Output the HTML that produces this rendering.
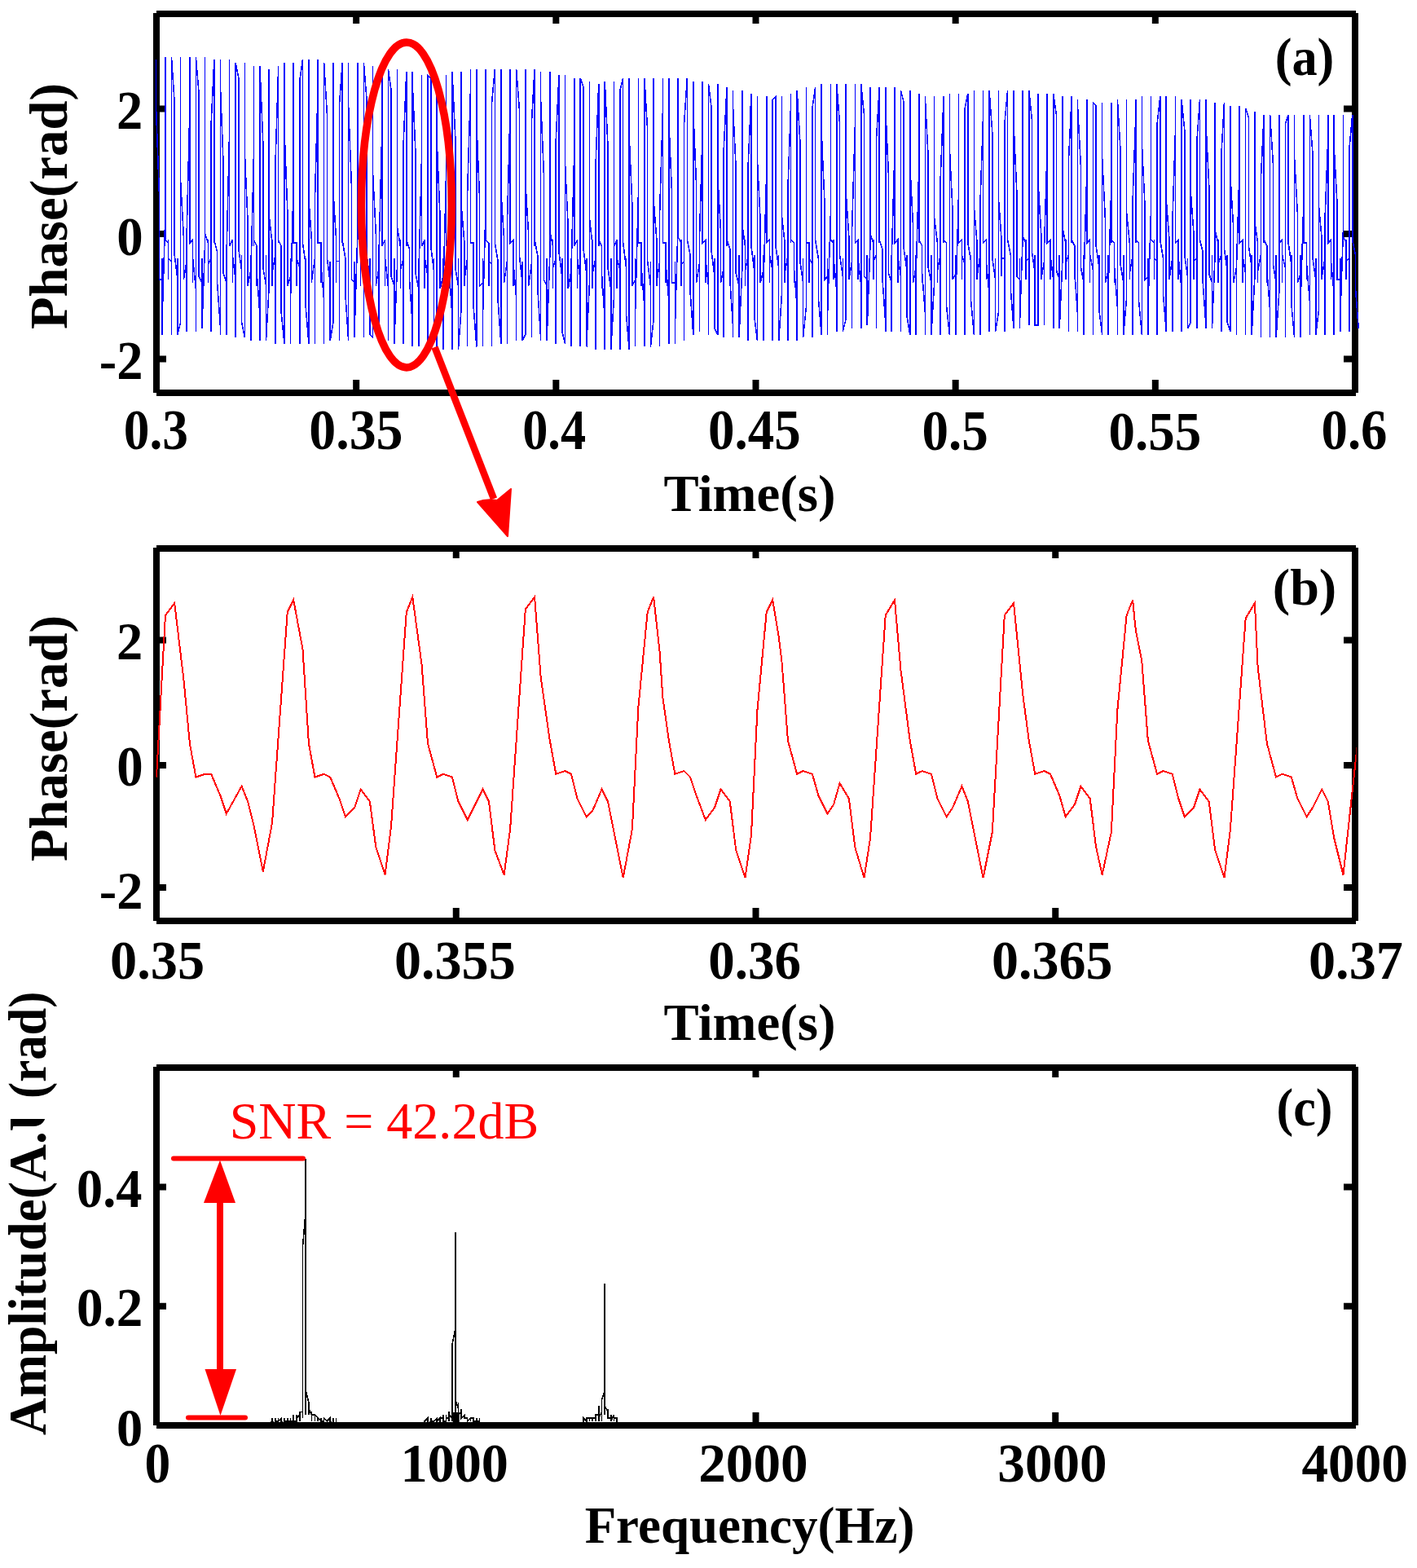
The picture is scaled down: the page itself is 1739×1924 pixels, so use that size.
<!DOCTYPE html><html><head><meta charset="utf-8"><title>Phase and spectrum figure</title><style>html,body{margin:0;padding:0;background:#fff;}svg{display:block;}</style></head><body><svg xmlns="http://www.w3.org/2000/svg" width="1739" height="1924" viewBox="0 0 1739 1924" font-family="'Liberation Serif','Times New Roman',serif"><rect width="1739" height="1924" fill="#fff"/><path d="M192 16V482M1663 16V482M192 17H1664M192 482H1664" stroke="#000" stroke-width="8" fill="none"/><path d="M192.0 17V29M192.0 482V466M437.16666666666663 17V29M437.16666666666663 482V466M682.3333333333333 17V29M682.3333333333333 482V466M927.5 17V29M927.5 482V466M1172.6666666666665 17V29M1172.6666666666665 482V466M1417.8333333333333 17V29M1417.8333333333333 482V466M1663.0 17V29M1663.0 482V466M192 133.5H204M1663 133.5H1649M192 287H204M1663 287H1649M192 440.5H204M1663 440.5H1649" stroke="#000" stroke-width="8" fill="none"/><path d="M192 672V1130M1663 672V1130M192 673H1664M192 1130H1664" stroke="#000" stroke-width="8" fill="none"/><path d="M192.0 673V685M192.0 1130V1114M559.75 673V685M559.75 1130V1114M927.5 673V685M927.5 1130V1114M1295.25 673V685M1295.25 1130V1114M1663.0 673V685M1663.0 1130V1114M192 785.4H204M1663 785.4H1649M192 939H204M1663 939H1649M192 1089H204M1663 1089H1649" stroke="#000" stroke-width="8" fill="none"/><path d="M192 1309V1749M1663 1309V1749M192 1310H1664M192 1749H1664" stroke="#000" stroke-width="8" fill="none"/><path d="M192.0 1310V1322M192.0 1749V1733M559.75 1310V1322M559.75 1749V1733M927.5 1310V1322M927.5 1749V1733M1295.25 1310V1322M1295.25 1749V1733M1663.0 1310V1322M1663.0 1749V1733M192 1456.5H204M1663 1456.5H1649M192 1602.7H204M1663 1602.7H1649" stroke="#000" stroke-width="8" fill="none"/><defs><clipPath id="ca"><rect x="188" y="13" width="1481" height="473"/></clipPath><clipPath id="cb"><rect x="191.5" y="669" width="1473" height="465"/></clipPath><clipPath id="cc"><rect x="191.5" y="1306" width="1473" height="447"/></clipPath></defs><path clip-path="url(#ca)" d="M191.69 110.91L191.69 73.45L191.69 137.12L195.44 238.24L195.44 294.41L195.44 298.16L195.44 294.41L195.44 316.88L195.44 343.10L199.19 343.10L199.19 316.88L199.19 320.62L199.19 361.82L199.19 410.50L199.19 388.04L202.93 260.71L202.93 118.39L202.93 69.71L202.93 133.38L202.93 234.49L202.93 294.41L206.67 298.16L206.67 294.41L206.67 316.88L206.67 343.10L206.67 316.88L210.42 320.62L210.42 361.82L210.42 410.50L210.42 391.78L210.42 268.19L210.42 122.14L210.42 69.71L214.16 125.89L214.16 227.00L214.16 290.67L214.16 298.16L214.16 294.41L214.16 313.14L217.91 343.10L217.91 320.62L217.91 316.88L217.91 358.08L217.91 410.50L221.66 395.53L221.66 275.69L221.66 125.89L221.66 69.71L221.66 122.14L221.66 223.26L225.40 290.67L225.40 298.16L225.40 294.41L225.40 313.14L225.40 339.35L225.40 343.10L229.14 320.62L229.14 316.88L229.14 354.33L229.14 406.76L229.14 399.27L229.14 286.92L232.89 133.38L232.89 69.71L232.89 118.39L232.89 219.51L232.89 290.67L232.89 298.16L236.63 294.41L236.63 313.14L236.63 339.35L236.63 346.84L236.63 320.62L236.63 316.88L240.38 354.33L240.38 406.76L240.38 403.02L240.38 290.67L240.38 137.12L240.38 69.71L244.12 114.65L244.12 215.77L244.12 286.92L244.12 298.16L244.12 294.41L244.12 309.39L244.12 339.35L247.87 346.84L247.87 320.62L247.87 316.88L247.87 350.59L247.87 403.02L251.62 298.16L251.62 144.61L251.62 69.71L251.62 110.91L251.62 208.28L251.62 286.92L255.36 298.16L255.36 294.41L255.36 309.39L255.36 339.35L255.36 346.84L255.36 324.37L259.11 316.88L259.11 350.59L259.11 403.02L259.11 406.76L259.11 305.65L259.11 152.10L262.85 73.45L262.85 107.16L262.85 204.53L262.85 283.18L262.85 298.16L262.85 294.41L266.59 309.39L266.59 335.61L266.59 346.84L266.59 324.37L266.59 313.14L266.59 346.84L270.34 399.27L270.34 410.50L270.34 313.14L270.34 159.59L270.34 73.45L270.34 103.42L274.08 200.79L274.08 279.43L274.08 301.90L274.08 294.41L274.08 305.65L274.08 335.61L277.83 346.84L277.83 328.12L277.83 313.14L277.83 343.10L277.83 399.27L277.83 410.50L277.83 320.62L281.57 163.34L281.57 73.45L281.57 99.67L281.57 197.04L281.57 279.43L281.57 301.90L285.32 294.41L285.32 305.65L285.32 335.61L285.32 346.84L285.32 328.12L285.32 313.14L289.06 343.10L289.06 395.53L289.06 414.25L289.06 328.12L289.06 170.83L289.06 77.20L292.81 95.92L292.81 189.55L292.81 275.69L292.81 301.90L292.81 294.41L292.81 305.65L296.56 331.86L296.56 346.84L296.56 328.12L296.56 313.14L296.56 339.35L296.56 395.53L300.30 414.25L300.30 331.86L300.30 178.32L300.30 77.20L300.30 92.18L300.30 185.81L304.05 271.94L304.05 301.90L304.05 294.41L304.05 301.90L304.05 331.86L304.05 350.59L307.79 331.86L307.79 313.14L307.79 339.35L307.79 391.78L307.79 418.00L307.79 339.35L311.54 185.81L311.54 80.94L311.54 88.44L311.54 182.06L311.54 268.19L311.54 301.90L311.54 294.41L315.28 301.90L315.28 331.86L315.28 350.59L315.28 331.86L315.28 313.14L315.28 335.61L319.02 388.04L319.02 418.00L319.02 346.84L319.02 193.30L319.02 80.94L319.02 84.69L322.77 174.57L322.77 268.19L322.77 301.90L322.77 294.41L322.77 301.90L322.77 328.12L326.51 350.59L326.51 335.61L326.51 313.14L326.51 335.61L326.51 388.04L326.51 418.00L330.26 350.59L330.26 200.79L330.26 84.69L330.26 170.83L330.26 264.45L334.00 298.16L334.00 294.41L334.00 301.90L334.00 328.12L334.00 350.59L334.00 335.61L337.75 313.14L337.75 331.86L337.75 384.29L337.75 421.74L337.75 358.08L337.75 208.28L341.50 88.44L341.50 80.94L341.50 167.08L341.50 260.71L341.50 298.16L341.50 294.41L345.24 301.90L345.24 328.12L345.24 350.59L345.24 335.61L345.24 313.14L345.24 331.86L345.24 384.29L348.99 421.74L348.99 365.56L348.99 215.77L348.99 92.18L348.99 77.20L348.99 159.59L352.73 256.96L352.73 298.16L352.73 294.41L352.73 298.16L352.73 324.37L352.73 350.59L356.48 339.35L356.48 316.88L356.48 328.12L356.48 380.55L356.48 421.74L356.48 369.31L360.22 223.26L360.22 95.92L360.22 77.20L360.22 155.85L360.22 253.22L360.22 298.16L363.96 298.16L363.96 324.37L363.96 350.59L363.96 339.35L363.96 316.88L367.71 328.12L367.71 376.80L367.71 421.74L367.71 376.80L367.71 230.75L367.71 99.67L371.45 73.45L371.45 152.10L371.45 249.47L371.45 298.16L375.20 324.37L375.20 346.84L375.20 343.10L375.20 316.88L375.20 324.37L375.20 376.80L378.94 421.74L378.94 380.55L378.94 238.24L378.94 103.42L378.94 73.45L378.94 144.61L378.94 245.73L382.69 298.16L382.69 320.62L382.69 346.84L382.69 343.10L386.44 316.88L386.44 324.37L386.44 373.06L386.44 421.74L386.44 384.29L386.44 245.73L390.18 107.16L390.18 73.45L390.18 140.87L390.18 241.98L390.18 294.41L390.18 298.16L393.93 298.16L393.93 320.62L393.93 346.84L393.93 343.10L393.93 316.88L393.93 324.37L397.67 369.31L397.67 421.74L397.67 391.78L397.67 256.96L397.67 118.39L397.67 77.20L401.42 140.87L401.42 238.24L401.42 294.41L401.42 298.16L401.42 294.41L401.42 316.88L405.16 346.84L405.16 320.62L405.16 369.31L405.16 418.00L408.90 395.53L408.90 264.45L408.90 122.14L408.90 77.20L408.90 137.12L408.90 234.49L412.65 294.41L412.65 298.16L412.65 294.41L412.65 316.88L412.65 346.84L412.65 320.62L416.39 320.62L416.39 365.56L416.39 418.00L416.39 399.27L416.39 271.94L416.39 129.63L420.14 77.20L420.14 133.38L420.14 230.75L420.14 290.67L420.14 298.16L420.14 294.41L423.88 316.88L423.88 346.84L423.88 320.62L423.88 361.82L427.63 418.00L427.63 403.02L427.63 279.43L427.63 133.38L427.63 77.20L427.63 129.63L431.38 227.00L431.38 290.67L431.38 298.16L431.38 294.41L431.38 313.14L431.38 343.10L435.12 346.84L435.12 324.37L435.12 320.62L435.12 361.82L435.12 414.25L435.12 406.76L438.87 286.92L438.87 140.87L438.87 77.20L438.87 125.89L438.87 219.51L438.87 290.67L442.61 298.16L442.61 294.41L442.61 313.14L442.61 343.10L442.61 350.59L442.61 324.37L446.36 316.88L446.36 358.08L446.36 414.25L446.36 410.50L446.36 294.41L446.36 144.61L446.36 77.20L450.10 122.14L450.10 215.77L450.10 286.92L450.10 301.90L450.10 294.41L450.10 313.14L453.85 343.10L453.85 350.59L453.85 324.37L453.85 316.88L453.85 354.33L453.85 410.50L457.59 414.25L457.59 301.90L457.59 152.10L457.59 80.94L457.59 118.39L457.59 212.02L461.33 286.92L461.33 301.90L461.33 294.41L461.33 309.39L461.33 343.10L461.33 350.59L465.08 328.12L465.08 316.88L465.08 354.33L465.08 410.50L465.08 418.00L465.08 309.39L468.82 159.59L468.82 80.94L468.82 114.65L468.82 208.28L468.82 283.18L468.82 301.90L472.57 294.41L472.57 309.39L472.57 339.35L472.57 350.59L472.57 328.12L472.57 316.88L476.31 350.59L476.31 406.76L476.31 418.00L476.31 316.88L476.31 167.08L476.31 84.69L480.06 110.91L480.06 204.53L480.06 279.43L480.06 301.90L480.06 294.41L480.06 309.39L480.06 339.35L483.81 350.59L483.81 328.12L483.81 316.88L483.81 346.84L483.81 406.76L483.81 421.74L487.55 324.37L487.55 170.83L487.55 84.69L487.55 107.16L487.55 197.04L487.55 279.43L491.30 301.90L491.30 294.41L491.30 305.65L491.30 335.61L491.30 354.33L491.30 331.86L495.04 316.88L495.04 346.84L495.04 403.02L495.04 421.74L495.04 331.86L495.04 178.32L498.79 88.44L498.79 103.42L498.79 193.30L498.79 275.69L498.79 301.90L498.79 294.41L502.53 305.65L502.53 335.61L502.53 354.33L502.53 331.86L502.53 316.88L502.53 343.10L506.27 399.27L506.27 425.49L506.27 339.35L506.27 185.81L506.27 88.44L506.27 103.42L510.02 189.55L510.02 271.94L510.02 301.90L510.02 294.41L510.02 305.65L510.02 335.61L513.77 354.33L513.77 335.61L513.77 316.88L513.77 339.35L513.77 399.27L513.77 425.49L513.77 343.10L517.51 193.30L517.51 92.18L517.51 99.67L517.51 185.81L517.51 268.19L517.51 301.90L521.26 294.41L521.26 301.90L521.26 331.86L521.26 354.33L521.26 335.61L521.26 316.88L525.00 339.35L525.00 395.53L525.00 425.49L525.00 350.59L525.00 200.79L525.00 92.18L528.75 95.92L528.75 178.32L528.75 268.19L528.75 301.90L528.75 294.41L528.75 301.90L532.49 331.86L532.49 354.33L532.49 335.61L532.49 316.88L532.49 335.61L532.49 391.78L536.24 425.49L536.24 358.08L536.24 208.28L536.24 95.92L536.24 92.18L536.24 174.57L539.98 264.45L539.98 301.90L539.98 294.41L539.98 301.90L539.98 331.86L539.98 354.33L543.73 339.35L543.73 316.88L543.73 335.61L543.73 391.78L543.73 429.23L543.73 365.56L547.47 215.77L547.47 99.67L547.47 92.18L547.47 170.83L547.47 260.71L547.47 301.90L547.47 294.41L551.22 301.90L551.22 328.12L551.22 354.33L551.22 339.35L551.22 316.88L551.22 331.86L554.96 388.04L554.96 429.23L554.96 369.31L554.96 219.51L554.96 103.42L554.96 88.44L558.71 167.08L558.71 256.96L558.71 298.16L558.71 328.12L562.45 350.59L562.45 339.35L562.45 316.88L562.45 331.86L562.45 384.29L562.45 429.23L566.20 376.80L566.20 227.00L566.20 107.16L566.20 88.44L566.20 159.59L566.20 253.22L569.94 298.16L569.94 324.37L569.94 350.59L569.94 343.10L573.69 316.88L573.69 328.12L573.69 380.55L573.69 425.49L573.69 380.55L573.69 234.49L577.43 110.91L577.43 84.69L577.43 155.85L577.43 249.47L577.43 298.16L581.18 298.16L581.18 324.37L581.18 350.59L581.18 343.10L581.18 316.88L581.18 328.12L581.18 376.80L584.92 425.49L584.92 384.29L584.92 241.98L584.92 114.65L584.92 84.69L584.92 152.10L588.67 245.73L588.67 298.16L588.67 320.62L588.67 350.59L592.41 346.84L592.41 316.88L592.41 324.37L592.41 376.80L592.41 425.49L592.41 391.78L596.16 249.47L596.16 118.39L596.16 84.69L596.16 148.36L596.16 241.98L596.16 294.41L599.90 298.16L599.90 320.62L599.90 350.59L599.90 346.84L599.90 320.62L603.65 324.37L603.65 373.06L603.65 425.49L603.65 395.53L603.65 260.71L603.65 125.89L607.39 84.69L607.39 144.61L607.39 238.24L607.39 294.41L607.39 298.16L611.14 320.62L611.14 346.84L611.14 320.62L611.14 324.37L611.14 369.31L614.88 421.74L614.88 399.27L614.88 268.19L614.88 129.63L614.88 84.69L614.88 140.87L614.88 234.49L618.63 294.41L618.63 298.16L618.63 294.41L618.63 316.88L618.63 346.84L622.37 320.62L622.37 365.56L622.37 421.74L622.37 403.02L622.37 275.69L626.12 133.38L626.12 84.69L626.12 137.12L626.12 230.75L626.12 290.67L626.12 298.16L629.86 294.41L629.86 316.88L629.86 346.84L629.86 350.59L629.86 324.37L629.86 320.62L633.61 365.56L633.61 418.00L633.61 406.76L633.61 283.18L633.61 140.87L633.61 84.69L637.35 133.38L637.35 227.00L637.35 290.67L637.35 298.16L637.35 294.41L637.35 313.14L641.10 346.84L641.10 350.59L641.10 324.37L641.10 320.62L641.10 361.82L641.10 418.00L644.84 410.50L644.84 290.67L644.84 144.61L644.84 84.69L644.84 129.63L644.84 223.26L648.59 286.92L648.59 301.90L648.59 294.41L648.59 313.14L648.59 343.10L648.59 350.59L652.33 324.37L652.33 316.88L652.33 358.08L652.33 414.25L652.33 298.16L652.33 152.10L656.08 84.69L656.08 125.89L656.08 219.51L656.08 286.92L656.08 301.90L656.08 294.41L659.82 313.14L659.82 343.10L659.82 350.59L659.82 324.37L659.82 316.88L659.82 354.33L663.57 414.25L663.57 418.00L663.57 305.65L663.57 159.59L663.57 88.44L663.57 122.14L667.31 212.02L667.31 283.18L667.31 301.90L667.31 294.41L667.31 309.39L667.31 343.10L671.06 350.59L671.06 328.12L671.06 316.88L671.06 354.33L671.06 410.50L671.06 418.00L674.80 313.14L674.80 163.34L674.80 88.44L674.80 118.39L674.80 208.28L674.80 283.18L678.55 301.90L678.55 294.41L678.55 309.39L678.55 339.35L678.55 354.33L678.55 328.12L682.29 316.88L682.29 350.59L682.29 410.50L682.29 421.74L682.29 320.62L682.29 170.83L686.04 92.18L686.04 114.65L686.04 204.53L686.04 279.43L686.04 301.90L686.04 294.41L686.04 309.39L689.78 339.35L689.78 354.33L689.78 331.86L689.78 316.88L689.78 346.84L689.78 406.76L693.53 421.74L693.53 324.37L693.53 178.32L693.53 92.18L693.53 114.65L693.53 200.79L697.27 279.43L697.27 301.90L697.27 294.41L697.27 305.65L697.27 339.35L697.27 354.33L701.02 331.86L701.02 316.88L701.02 346.84L701.02 403.02L701.02 425.49L701.02 331.86L704.76 185.81L704.76 95.92L704.76 110.91L704.76 197.04L704.76 275.69L704.76 301.90L708.51 294.41L708.51 305.65L708.51 335.61L708.51 354.33L708.51 331.86L708.51 316.88L712.25 343.10L712.25 399.27L712.25 425.49L712.25 339.35L712.25 189.55L712.25 95.92L716.00 107.16L716.00 193.30L716.00 271.94L716.00 301.90L716.00 294.41L716.00 305.65L719.74 335.61L719.74 354.33L719.74 335.61L719.74 316.88L719.74 339.35L719.74 399.27L719.74 425.49L723.49 346.84L723.49 197.04L723.49 99.67L723.49 107.16L723.49 189.55L723.49 268.19L727.23 301.90L727.23 294.41L727.23 301.90L727.23 331.86L727.23 354.33L727.23 335.61L730.98 316.88L730.98 339.35L730.98 395.53L730.98 429.23L730.98 354.33L730.98 204.53L734.72 103.42L734.72 182.06L734.72 268.19L734.72 301.90L734.72 294.41L738.47 301.90L738.47 331.86L738.47 354.33L738.47 335.61L738.47 316.88L738.47 335.61L742.21 391.78L742.21 429.23L742.21 358.08L742.21 212.02L742.21 103.42L742.21 99.67L745.96 178.32L745.96 264.45L745.96 301.90L745.96 294.41L745.96 301.90L745.96 328.12L749.70 354.33L749.70 339.35L749.70 316.88L749.70 335.61L749.70 388.04L749.70 429.23L753.45 365.56L753.45 219.51L753.45 107.16L753.45 99.67L753.45 174.57L753.45 260.71L753.45 301.90L757.19 294.41L757.19 301.90L757.19 328.12L757.19 354.33L757.19 339.35L757.19 316.88L760.94 331.86L760.94 388.04L760.94 429.23L760.94 369.31L760.94 227.00L760.94 110.91L764.68 95.92L764.68 170.83L764.68 256.96L764.68 298.16L768.43 328.12L768.43 350.59L768.43 343.10L768.43 316.88L768.43 331.86L768.43 384.29L772.17 429.23L772.17 376.80L772.17 234.49L772.17 114.65L772.17 95.92L772.17 167.08L775.92 253.22L775.92 298.16L775.92 324.37L775.92 350.59L779.66 343.10L779.66 316.88L779.66 328.12L779.66 380.55L779.66 425.49L779.66 380.55L783.41 238.24L783.41 118.39L783.41 95.92L783.41 159.59L783.41 249.47L783.41 298.16L787.15 298.16L787.15 324.37L787.15 350.59L787.15 343.10L787.15 316.88L787.15 328.12L790.90 376.80L790.90 425.49L790.90 388.04L790.90 245.73L790.90 122.14L790.90 95.92L794.64 159.59L794.64 245.73L794.64 298.16L794.64 320.62L798.39 350.59L798.39 346.84L798.39 320.62L798.39 324.37L798.39 376.80L798.39 425.49L802.13 391.78L802.13 256.96L802.13 129.63L802.13 95.92L802.13 155.85L802.13 245.73L805.88 294.41L805.88 298.16L805.88 320.62L805.88 350.59L805.88 346.84L809.62 320.62L809.62 324.37L809.62 373.06L809.62 425.49L809.62 395.53L809.62 260.71L813.37 137.12L813.37 95.92L813.37 152.10L813.37 241.98L813.37 294.41L813.37 298.16L817.11 298.16L817.11 320.62L817.11 346.84L817.11 320.62L817.11 324.37L820.86 369.31L820.86 421.74L820.86 399.27L820.86 268.19L820.86 140.87L820.86 95.92L820.86 148.36L824.60 238.24L824.60 294.41L824.60 298.16L824.60 294.41L824.60 316.88L824.60 346.84L828.35 346.84L828.35 320.62L828.35 365.56L828.35 421.74L828.35 403.02L832.09 275.69L832.09 144.61L832.09 95.92L832.09 144.61L832.09 234.49L832.09 290.67L835.84 298.16L835.84 294.41L835.84 316.88L835.84 346.84L835.84 350.59L835.84 324.37L839.58 320.62L839.58 361.82L839.58 418.00L839.58 406.76L839.58 283.18L839.58 152.10L843.33 95.92L843.33 140.87L843.33 230.75L843.33 290.67L843.33 298.16L843.33 294.41L847.07 313.14L847.07 343.10L847.07 346.84L847.07 320.62L847.07 316.88L847.07 358.08L850.82 410.50L850.82 403.02L850.82 290.67L850.82 155.85L850.82 99.67L850.82 137.12L854.56 227.00L854.56 286.92L854.56 298.16L854.56 294.41L854.56 313.14L854.56 339.35L854.56 346.84L858.31 324.37L858.31 316.88L858.31 354.33L858.31 406.76L858.31 298.16L862.05 163.34L862.05 99.67L862.05 137.12L862.05 223.26L862.05 286.92L862.05 298.16L865.80 294.41L865.80 309.39L865.80 339.35L865.80 346.84L865.80 324.37L865.80 316.88L869.54 350.59L869.54 406.76L869.54 410.50L869.54 305.65L869.54 167.08L869.54 103.42L873.29 133.38L873.29 219.51L873.29 283.18L873.29 301.90L873.29 294.41L873.29 309.39L877.03 339.35L877.03 346.84L877.03 324.37L877.03 316.88L877.03 346.84L877.03 403.02L880.78 410.50L880.78 313.14L880.78 174.57L880.78 103.42L880.78 133.38L880.78 215.77L884.52 283.18L884.52 301.90L884.52 294.41L884.52 309.39L884.52 335.61L884.52 346.84L888.27 328.12L888.27 313.14L888.27 346.84L888.27 399.27L888.27 414.25L888.27 316.88L888.27 182.06L892.01 107.16L892.01 129.63L892.01 212.02L892.01 279.43L892.01 301.90L892.01 294.41L895.76 305.65L895.76 335.61L895.76 350.59L895.76 328.12L895.76 313.14L895.76 343.10L899.50 399.27L899.50 414.25L899.50 324.37L899.50 189.55L899.50 110.91L899.50 129.63L903.25 208.28L903.25 279.43L903.25 301.90L903.25 294.41L903.25 305.65L903.25 335.61L906.99 350.59L906.99 328.12L906.99 313.14L906.99 339.35L906.99 395.53L906.99 414.25L910.74 331.86L910.74 193.30L910.74 110.91L910.74 125.89L910.74 204.53L910.74 275.69L914.48 301.90L914.48 294.41L914.48 305.65L914.48 331.86L914.48 350.59L914.48 331.86L918.23 313.14L918.23 339.35L918.23 391.78L918.23 418.00L918.23 339.35L918.23 200.79L921.97 114.65L921.97 122.14L921.97 200.79L921.97 271.94L921.97 301.90L921.97 294.41L921.97 301.90L925.72 331.86L925.72 350.59L925.72 331.86L925.72 313.14L925.72 335.61L925.72 388.04L929.46 418.00L929.46 343.10L929.46 208.28L929.46 118.39L929.46 122.14L929.46 197.04L933.21 271.94L933.21 301.90L933.21 294.41L933.21 301.90L933.21 328.12L933.21 346.84L936.95 331.86L936.95 313.14L936.95 335.61L936.95 388.04L936.95 418.00L936.95 350.59L940.70 212.02L940.70 118.39L940.70 193.30L940.70 268.19L940.70 298.16L944.44 294.41L944.44 301.90L944.44 328.12L944.44 346.84L944.44 335.61L944.44 313.14L948.19 331.86L948.19 384.29L948.19 418.00L948.19 354.33L948.19 219.51L948.19 122.14L951.93 118.39L951.93 189.55L951.93 264.45L951.93 298.16L951.93 294.41L951.93 301.90L955.68 328.12L955.68 346.84L955.68 335.61L955.68 313.14L955.68 331.86L955.68 380.55L955.68 418.00L959.42 361.82L959.42 227.00L959.42 125.89L959.42 118.39L959.42 185.81L959.42 264.45L963.17 298.16L963.17 294.41L963.17 298.16L963.17 324.37L963.17 346.84L963.17 335.61L966.91 313.14L966.91 328.12L966.91 376.80L966.91 418.00L966.91 365.56L966.91 230.75L970.66 125.89L970.66 114.65L970.66 178.32L970.66 260.71L970.66 298.16L970.66 294.41L974.40 298.16L974.40 324.37L974.40 346.84L974.40 339.35L974.40 313.14L974.40 328.12L978.15 376.80L978.15 418.00L978.15 369.31L978.15 238.24L978.15 129.63L978.15 110.91L981.89 174.57L981.89 256.96L981.89 298.16L981.89 320.62L985.64 346.84L985.64 339.35L985.64 316.88L985.64 324.37L985.64 373.06L985.64 414.25L989.38 376.80L989.38 245.73L989.38 129.63L989.38 107.16L989.38 167.08L989.38 253.22L989.38 298.16L993.13 298.16L993.13 320.62L993.13 346.84L993.13 339.35L993.13 316.88L996.87 324.37L996.87 369.31L996.87 414.25L996.87 376.80L996.87 249.47L996.87 133.38L1000.62 107.16L1000.62 163.34L1000.62 249.47L1000.62 294.41L1000.62 298.16L1000.62 294.41L1004.36 316.88L1004.36 343.10L1004.36 339.35L1004.36 316.88L1004.36 320.62L1004.36 365.56L1008.11 410.50L1008.11 380.55L1008.11 256.96L1008.11 137.12L1008.11 103.42L1008.11 159.59L1011.85 245.73L1011.85 294.41L1011.85 298.16L1011.85 294.41L1011.85 316.88L1011.85 343.10L1015.60 339.35L1015.60 316.88L1015.60 320.62L1015.60 361.82L1015.60 410.50L1015.60 384.29L1019.34 264.45L1019.34 144.61L1019.34 103.42L1019.34 155.85L1019.34 241.98L1019.34 294.41L1023.09 298.16L1023.09 294.41L1023.09 316.88L1023.09 343.10L1023.09 316.88L1026.83 358.08L1026.83 406.76L1026.83 388.04L1026.83 271.94L1026.83 148.36L1026.83 103.42L1030.58 152.10L1030.58 238.24L1030.58 290.67L1030.58 298.16L1030.58 294.41L1030.58 313.14L1034.32 339.35L1034.32 343.10L1034.32 316.88L1034.32 358.08L1034.32 406.76L1038.07 391.78L1038.07 279.43L1038.07 152.10L1038.07 103.42L1038.07 148.36L1038.07 234.49L1041.81 290.67L1041.81 298.16L1041.81 294.41L1041.81 313.14L1041.81 339.35L1041.81 343.10L1045.56 320.62L1045.56 316.88L1045.56 354.33L1045.56 403.02L1045.56 395.53L1045.56 283.18L1049.30 155.85L1049.30 103.42L1049.30 144.61L1049.30 230.75L1049.30 290.67L1049.30 298.16L1053.05 294.41L1053.05 309.39L1053.05 339.35L1053.05 343.10L1053.05 320.62L1053.05 316.88L1056.79 350.59L1056.79 403.02L1056.79 399.27L1056.79 290.67L1056.79 163.34L1056.79 103.42L1060.54 140.87L1060.54 227.00L1060.54 286.92L1060.54 298.16L1060.54 294.41L1060.54 309.39L1060.54 339.35L1064.28 343.10L1064.28 320.62L1064.28 313.14L1064.28 350.59L1064.28 399.27L1068.03 298.16L1068.03 167.08L1068.03 107.16L1068.03 140.87L1068.03 223.26L1068.03 286.92L1071.77 298.16L1071.77 294.41L1071.77 309.39L1071.77 335.61L1071.77 343.10L1071.77 320.62L1075.52 313.14L1075.52 346.84L1075.52 399.27L1075.52 403.02L1075.52 305.65L1075.52 170.83L1079.26 107.16L1079.26 137.12L1079.26 219.51L1079.26 283.18L1079.26 298.16L1079.26 294.41L1083.01 305.65L1083.01 335.61L1083.01 346.84L1083.01 324.37L1083.01 313.14L1083.01 343.10L1086.75 395.53L1086.75 406.76L1086.75 313.14L1086.75 178.32L1086.75 107.16L1086.75 133.38L1090.50 215.77L1090.50 283.18L1090.50 298.16L1090.50 294.41L1090.50 305.65L1090.50 335.61L1094.24 346.84L1094.24 324.37L1094.24 313.14L1094.24 343.10L1094.24 395.53L1094.24 406.76L1094.24 316.88L1097.99 185.81L1097.99 107.16L1097.99 129.63L1097.99 212.02L1097.99 279.43L1097.99 298.16L1101.73 294.41L1101.73 305.65L1101.73 331.86L1101.73 346.84L1101.73 324.37L1101.73 313.14L1105.48 339.35L1105.48 391.78L1105.48 406.76L1105.48 324.37L1105.48 189.55L1105.48 110.91L1109.22 125.89L1109.22 208.28L1109.22 279.43L1109.22 298.16L1109.22 294.41L1109.22 305.65L1112.97 331.86L1112.97 346.84L1112.97 328.12L1112.97 313.14L1112.97 339.35L1112.97 388.04L1116.71 410.50L1116.71 331.86L1116.71 197.04L1116.71 110.91L1116.71 125.89L1116.71 200.79L1120.46 275.69L1120.46 298.16L1120.46 294.41L1120.46 301.90L1120.46 328.12L1120.46 346.84L1124.20 328.12L1124.20 313.14L1124.20 335.61L1124.20 388.04L1124.20 410.50L1124.20 335.61L1127.95 200.79L1127.95 114.65L1127.95 122.14L1127.95 197.04L1127.95 271.94L1127.95 298.16L1127.95 294.41L1131.69 301.90L1131.69 328.12L1131.69 346.84L1131.69 328.12L1131.69 313.14L1131.69 335.61L1135.44 384.29L1135.44 410.50L1135.44 343.10L1135.44 208.28L1135.44 118.39L1135.44 122.14L1139.18 193.30L1139.18 271.94L1139.18 298.16L1139.18 294.41L1139.18 301.90L1139.18 328.12L1142.93 346.84L1142.93 331.86L1142.93 313.14L1142.93 331.86L1142.93 380.55L1142.93 410.50L1146.67 346.84L1146.67 215.77L1146.67 118.39L1146.67 189.55L1146.67 268.19L1150.42 298.16L1150.42 294.41L1150.42 301.90L1150.42 324.37L1150.42 346.84L1150.42 331.86L1154.16 313.14L1154.16 328.12L1154.16 380.55L1154.16 410.50L1154.16 354.33L1154.16 219.51L1157.90 122.14L1157.90 118.39L1157.90 185.81L1157.90 264.45L1157.90 298.16L1157.90 294.41L1161.65 298.16L1161.65 324.37L1161.65 346.84L1161.65 331.86L1161.65 313.14L1161.65 328.12L1161.65 376.80L1165.39 410.50L1165.39 358.08L1165.39 227.00L1165.39 125.89L1165.39 114.65L1165.39 182.06L1169.14 260.71L1169.14 298.16L1169.14 294.41L1169.14 298.16L1169.14 324.37L1169.14 343.10L1172.88 335.61L1172.88 313.14L1172.88 328.12L1172.88 373.06L1172.88 410.50L1172.88 365.56L1176.63 234.49L1176.63 129.63L1176.63 114.65L1176.63 178.32L1176.63 256.96L1176.63 298.16L1180.38 294.41L1180.38 298.16L1180.38 320.62L1180.38 343.10L1180.38 335.61L1180.38 313.14L1184.12 324.37L1184.12 373.06L1184.12 410.50L1184.12 369.31L1184.12 241.98L1184.12 133.38L1187.87 114.65L1187.87 174.57L1187.87 256.96L1187.87 298.16L1187.87 294.41L1187.87 298.16L1191.61 320.62L1191.61 343.10L1191.61 335.61L1191.61 313.14L1191.61 324.37L1191.61 369.31L1195.36 410.50L1195.36 373.06L1195.36 245.73L1195.36 137.12L1195.36 110.91L1195.36 170.83L1195.36 253.22L1199.10 298.16L1199.10 316.88L1199.10 343.10L1199.10 339.35L1202.85 313.14L1202.85 320.62L1202.85 365.56L1202.85 410.50L1202.85 376.80L1202.85 253.22L1206.59 140.87L1206.59 110.91L1206.59 167.08L1206.59 249.47L1206.59 294.41L1206.59 298.16L1210.34 294.41L1210.34 316.88L1210.34 343.10L1210.34 339.35L1210.34 316.88L1210.34 320.62L1214.08 361.82L1214.08 406.76L1214.08 380.55L1214.08 260.71L1214.08 144.61L1214.08 110.91L1217.83 163.34L1217.83 245.73L1217.83 294.41L1217.83 298.16L1217.83 294.41L1217.83 316.88L1221.57 343.10L1221.57 339.35L1221.57 316.88L1221.57 320.62L1221.57 361.82L1221.57 406.76L1225.32 384.29L1225.32 268.19L1225.32 148.36L1225.32 110.91L1225.32 159.59L1225.32 241.98L1229.06 294.41L1229.06 298.16L1229.06 294.41L1229.06 313.14L1229.06 339.35L1229.06 316.88L1232.81 316.88L1232.81 358.08L1232.81 406.76L1232.81 388.04L1232.81 271.94L1232.81 152.10L1236.55 110.91L1236.55 155.85L1236.55 238.24L1236.55 290.67L1236.55 298.16L1236.55 294.41L1240.30 313.14L1240.30 339.35L1240.30 343.10L1240.30 316.88L1240.30 354.33L1244.04 403.02L1244.04 391.78L1244.04 279.43L1244.04 159.59L1244.04 110.91L1244.04 152.10L1247.79 234.49L1247.79 290.67L1247.79 298.16L1247.79 294.41L1247.79 313.14L1247.79 339.35L1251.53 343.10L1251.53 320.62L1251.53 316.88L1251.53 354.33L1251.53 403.02L1251.53 395.53L1255.28 286.92L1255.28 163.34L1255.28 110.91L1255.28 152.10L1255.28 230.75L1255.28 290.67L1259.02 298.16L1259.02 294.41L1259.02 309.39L1259.02 339.35L1259.02 343.10L1259.02 320.62L1262.77 316.88L1262.77 350.59L1262.77 399.27L1262.77 294.41L1262.77 167.08L1262.77 110.91L1266.51 148.36L1266.51 227.00L1266.51 286.92L1266.51 298.16L1266.51 294.41L1266.51 309.39L1270.26 335.61L1270.26 343.10L1270.26 320.62L1270.26 313.14L1270.26 346.84L1270.26 399.27L1274.00 399.27L1274.00 298.16L1274.00 174.57L1274.00 114.65L1274.00 144.61L1274.00 223.26L1277.75 286.92L1277.75 298.16L1277.75 294.41L1277.75 309.39L1277.75 335.61L1277.75 343.10L1281.49 320.62L1281.49 313.14L1281.49 346.84L1281.49 395.53L1281.49 399.27L1281.49 305.65L1285.24 178.32L1285.24 114.65L1285.24 140.87L1285.24 219.51L1285.24 283.18L1285.24 298.16L1288.98 294.41L1288.98 305.65L1288.98 331.86L1288.98 343.10L1288.98 324.37L1288.98 313.14L1292.73 343.10L1292.73 391.78L1292.73 403.02L1292.73 313.14L1292.73 185.81L1292.73 114.65L1296.47 140.87L1296.47 215.77L1296.47 283.18L1296.47 298.16L1296.47 294.41L1296.47 305.65L1296.47 331.86L1300.22 343.10L1300.22 324.37L1300.22 313.14L1300.22 339.35L1300.22 391.78L1300.22 403.02L1303.96 316.88L1303.96 189.55L1303.96 118.39L1303.96 137.12L1303.96 212.02L1303.96 279.43L1307.71 298.16L1307.71 294.41L1307.71 305.65L1307.71 331.86L1307.71 343.10L1307.71 324.37L1311.45 313.14L1311.45 339.35L1311.45 388.04L1311.45 406.76L1311.45 324.37L1311.45 197.04L1315.20 118.39L1315.20 133.38L1315.20 208.28L1315.20 279.43L1315.20 298.16L1315.20 294.41L1318.94 301.90L1318.94 331.86L1318.94 343.10L1318.94 328.12L1318.94 313.14L1318.94 335.61L1322.69 388.04L1322.69 406.76L1322.69 331.86L1322.69 200.79L1322.69 122.14L1322.69 133.38L1326.43 204.53L1326.43 275.69L1326.43 298.16L1326.43 294.41L1326.43 301.90L1326.43 328.12L1330.18 346.84L1330.18 328.12L1330.18 313.14L1330.18 335.61L1330.18 384.29L1330.18 410.50L1330.18 335.61L1333.92 208.28L1333.92 122.14L1333.92 129.63L1333.92 200.79L1333.92 271.94L1333.92 298.16L1337.67 294.41L1337.67 301.90L1337.67 328.12L1337.67 346.84L1337.67 328.12L1337.67 313.14L1341.41 331.86L1341.41 384.29L1341.41 410.50L1341.41 343.10L1341.41 212.02L1341.41 125.89L1345.15 129.63L1345.15 197.04L1345.15 271.94L1345.15 298.16L1345.15 294.41L1345.15 301.90L1348.90 328.12L1348.90 346.84L1348.90 331.86L1348.90 313.14L1348.90 331.86L1348.90 380.55L1352.64 410.50L1352.64 350.59L1352.64 219.51L1352.64 129.63L1352.64 125.89L1352.64 193.30L1356.39 268.19L1356.39 298.16L1356.39 294.41L1356.39 298.16L1356.39 324.37L1356.39 346.84L1360.13 331.86L1360.13 313.14L1360.13 328.12L1360.13 380.55L1360.13 410.50L1360.13 354.33L1363.88 227.00L1363.88 129.63L1363.88 125.89L1363.88 189.55L1363.88 264.45L1363.88 298.16L1363.88 294.41L1367.62 298.16L1367.62 324.37L1367.62 346.84L1367.62 335.61L1367.62 313.14L1367.62 328.12L1371.37 376.80L1371.37 410.50L1371.37 361.82L1371.37 230.75L1371.37 133.38L1371.37 122.14L1375.12 185.81L1375.12 260.71L1375.12 298.16L1375.12 294.41L1375.12 298.16L1375.12 324.37L1378.86 346.84L1378.86 335.61L1378.86 313.14L1378.86 324.37L1378.86 373.06L1378.86 410.50L1382.61 365.56L1382.61 238.24L1382.61 137.12L1382.61 122.14L1382.61 182.06L1382.61 260.71L1386.35 298.16L1386.35 294.41L1386.35 298.16L1386.35 320.62L1386.35 343.10L1386.35 335.61L1390.10 313.14L1390.10 324.37L1390.10 369.31L1390.10 410.50L1390.10 369.31L1390.10 245.73L1393.84 140.87L1393.84 122.14L1393.84 178.32L1393.84 256.96L1393.84 298.16L1393.84 294.41L1397.59 298.16L1397.59 320.62L1397.59 343.10L1397.59 335.61L1397.59 313.14L1397.59 324.37L1397.59 369.31L1401.33 410.50L1401.33 373.06L1401.33 249.47L1401.33 144.61L1401.33 118.39L1401.33 174.57L1405.08 253.22L1405.08 294.41L1405.08 298.16L1405.08 316.88L1405.08 343.10L1408.82 339.35L1408.82 316.88L1408.82 320.62L1408.82 365.56L1408.82 410.50L1408.82 380.55L1412.57 256.96L1412.57 148.36L1412.57 118.39L1412.57 170.83L1412.57 249.47L1412.57 294.41L1416.31 298.16L1416.31 294.41L1416.31 316.88L1416.31 343.10L1416.31 339.35L1416.31 316.88L1420.06 320.62L1420.06 361.82L1420.06 410.50L1420.06 384.29L1420.06 264.45L1420.06 152.10L1423.80 118.39L1423.80 170.83L1423.80 245.73L1423.80 294.41L1423.80 298.16L1423.80 294.41L1427.55 316.88L1427.55 343.10L1427.55 339.35L1427.55 316.88L1427.55 320.62L1427.55 361.82L1431.29 406.76L1431.29 388.04L1431.29 268.19L1431.29 155.85L1431.29 118.39L1431.29 167.08L1431.29 245.73L1435.04 294.41L1435.04 298.16L1435.04 294.41L1435.04 313.14L1435.04 339.35L1435.04 343.10L1438.78 316.88L1438.78 358.08L1438.78 406.76L1438.78 391.78L1438.78 275.69L1442.53 159.59L1442.53 118.39L1442.53 163.34L1442.53 241.98L1442.53 290.67L1442.53 298.16L1446.27 294.41L1446.27 313.14L1446.27 339.35L1446.27 343.10L1446.27 316.88L1450.02 354.33L1450.02 406.76L1450.02 395.53L1450.02 283.18L1450.02 167.08L1450.02 122.14L1453.76 159.59L1453.76 238.24L1453.76 290.67L1453.76 298.16L1453.76 294.41L1453.76 313.14L1457.51 339.35L1457.51 343.10L1457.51 320.62L1457.51 316.88L1457.51 354.33L1457.51 403.02L1461.25 395.53L1461.25 286.92L1461.25 170.83L1461.25 122.14L1461.25 155.85L1461.25 234.49L1465.00 286.92L1465.00 298.16L1465.00 294.41L1465.00 309.39L1465.00 339.35L1465.00 343.10L1465.00 320.62L1468.74 316.88L1468.74 350.59L1468.74 403.02L1468.74 399.27L1468.74 294.41L1468.74 174.57L1472.49 122.14L1472.49 155.85L1472.49 230.75L1472.49 286.92L1472.49 298.16L1472.49 294.41L1476.23 309.39L1476.23 335.61L1476.23 343.10L1476.23 320.62L1476.23 313.14L1476.23 346.84L1479.98 399.27L1479.98 403.02L1479.98 301.90L1479.98 182.06L1479.98 122.14L1479.98 152.10L1483.72 227.00L1483.72 286.92L1483.72 298.16L1483.72 294.41L1483.72 309.39L1483.72 335.61L1487.47 346.84L1487.47 324.37L1487.47 313.14L1487.47 346.84L1487.47 399.27L1487.47 403.02L1491.21 309.39L1491.21 185.81L1491.21 125.89L1491.21 148.36L1491.21 223.26L1491.21 283.18L1494.96 298.16L1494.96 294.41L1494.96 305.65L1494.96 335.61L1494.96 346.84L1494.96 324.37L1498.70 313.14L1498.70 343.10L1498.70 395.53L1498.70 406.76L1498.70 313.14L1498.70 193.30L1502.45 125.89L1502.45 148.36L1502.45 219.51L1502.45 283.18L1502.45 298.16L1502.45 294.41L1502.45 305.65L1506.19 331.86L1506.19 346.84L1506.19 324.37L1506.19 313.14L1506.19 343.10L1506.19 395.53L1509.94 406.76L1509.94 320.62L1509.94 197.04L1509.94 129.63L1509.94 144.61L1509.94 215.77L1513.68 279.43L1513.68 298.16L1513.68 294.41L1513.68 305.65L1513.68 331.86L1513.68 346.84L1517.43 328.12L1517.43 313.14L1517.43 339.35L1517.43 391.78L1517.43 410.50L1517.43 328.12L1521.17 204.53L1521.17 129.63L1521.17 144.61L1521.17 215.77L1521.17 279.43L1521.17 298.16L1524.92 294.41L1524.92 301.90L1524.92 331.86L1524.92 346.84L1524.92 328.12L1524.92 313.14L1528.66 335.61L1528.66 388.04L1528.66 410.50L1528.66 335.61L1528.66 208.28L1528.66 133.38L1532.41 144.61L1532.41 212.02L1532.41 275.69L1532.41 298.16L1532.41 294.41L1532.41 301.90L1536.15 328.12L1536.15 346.84L1536.15 328.12L1536.15 313.14L1536.15 335.61L1536.15 388.04L1536.15 410.50L1539.89 339.35L1539.89 215.77L1539.89 137.12L1539.89 140.87L1539.89 208.28L1539.89 271.94L1543.64 298.16L1543.64 294.41L1543.64 301.90L1543.64 328.12L1543.64 346.84L1543.64 331.86L1547.38 313.14L1547.38 331.86L1547.38 384.29L1547.38 414.25L1547.38 346.84L1547.38 219.51L1551.13 140.87L1551.13 204.53L1551.13 271.94L1551.13 298.16L1551.13 294.41L1554.88 301.90L1554.88 328.12L1554.88 346.84L1554.88 331.86L1554.88 313.14L1554.88 331.86L1558.62 380.55L1558.62 414.25L1558.62 350.59L1558.62 227.00L1558.62 144.61L1558.62 140.87L1562.37 200.79L1562.37 268.19L1562.37 298.16L1562.37 294.41L1562.37 298.16L1562.37 324.37L1566.11 346.84L1566.11 331.86L1566.11 313.14L1566.11 328.12L1566.11 380.55L1566.11 414.25L1569.86 358.08L1569.86 234.49L1569.86 148.36L1569.86 140.87L1569.86 200.79L1569.86 268.19L1569.86 298.16L1573.60 294.41L1573.60 298.16L1573.60 324.37L1573.60 346.84L1573.60 335.61L1573.60 313.14L1577.35 328.12L1577.35 376.80L1577.35 414.25L1577.35 361.82L1577.35 238.24L1577.35 152.10L1581.09 140.87L1581.09 197.04L1581.09 264.45L1581.09 298.16L1581.09 294.41L1581.09 298.16L1584.84 324.37L1584.84 346.84L1584.84 335.61L1584.84 313.14L1584.84 324.37L1584.84 373.06L1588.58 414.25L1588.58 365.56L1588.58 245.73L1588.58 155.85L1588.58 140.87L1588.58 193.30L1592.33 260.71L1592.33 298.16L1592.33 294.41L1592.33 298.16L1592.33 320.62L1592.33 346.84L1596.07 335.61L1596.07 313.14L1596.07 324.37L1596.07 373.06L1596.07 414.25L1596.07 373.06L1599.82 249.47L1599.82 159.59L1599.82 140.87L1599.82 189.55L1599.82 260.71L1599.82 298.16L1603.56 298.16L1603.56 320.62L1603.56 343.10L1603.56 339.35L1603.56 313.14L1603.56 324.37L1607.31 369.31L1607.31 410.50L1607.31 376.80L1607.31 256.96L1607.31 163.34L1607.31 140.87L1611.05 189.55L1611.05 256.96L1611.05 294.41L1611.05 298.16L1611.05 316.88L1614.80 343.10L1614.80 339.35L1614.80 316.88L1614.80 320.62L1614.80 365.56L1614.80 410.50L1618.54 380.55L1618.54 260.71L1618.54 167.08L1618.54 140.87L1618.54 185.81L1618.54 253.22L1622.29 294.41L1622.29 298.16L1622.29 294.41L1622.29 316.88L1622.29 343.10L1622.29 339.35L1626.03 316.88L1626.03 320.62L1626.03 361.82L1626.03 410.50L1626.03 384.29L1626.03 268.19L1629.78 170.83L1629.78 140.87L1629.78 182.06L1629.78 253.22L1629.78 294.41L1629.78 298.16L1633.52 294.41L1633.52 316.88L1633.52 343.10L1633.52 316.88L1633.52 320.62L1637.27 361.82L1637.27 410.50L1637.27 388.04L1637.27 271.94L1637.27 174.57L1637.27 140.87L1637.27 182.06L1641.01 249.47L1641.01 294.41L1641.01 298.16L1641.01 294.41L1641.01 313.14L1641.01 343.10L1644.76 343.10L1644.76 316.88L1644.76 358.08L1644.76 406.76L1644.76 391.78L1648.50 279.43L1648.50 178.32L1648.50 140.87L1648.50 178.32L1648.50 245.73L1648.50 290.67L1652.25 298.16L1652.25 294.41L1652.25 313.14L1652.25 339.35L1652.25 343.10L1652.25 320.62L1655.99 316.88L1655.99 354.33L1655.99 406.76L1655.99 395.53L1655.99 283.18L1655.99 182.06L1659.74 140.87L1659.74 174.57L1659.74 241.98L1659.74 290.67L1659.74 298.16L1659.74 294.41L1663.48 313.14L1663.48 339.35L1663.48 343.10L1663.48 320.62L1663.48 316.88L1663.48 354.33L1667.23 403.02" stroke="#0000ff" stroke-width="1.6" fill="none" shape-rendering="crispEdges"/><path clip-path="url(#cb)" d="M192.00 953.53L202.93 755.04L214.16 740.06L225.40 833.69L232.89 912.34L240.38 953.53L251.62 949.78L259.11 949.78L270.34 976.00L277.83 998.47L296.56 964.76L304.05 983.49L311.54 1013.45L322.77 1069.62L334.00 1009.70L352.73 751.30L360.22 736.32L371.45 796.24L378.94 912.34L386.44 953.53L397.67 949.78L405.16 953.53L416.39 979.75L423.88 1002.22L435.12 990.98L442.61 968.51L453.85 983.49L461.33 1039.66L472.57 1073.37L480.06 1013.45L498.79 751.30L506.27 732.57L517.51 814.97L525.00 912.34L536.24 953.53L543.73 949.78L554.96 953.53L562.45 983.49L573.69 1005.96L592.41 968.51L599.90 983.49L607.39 1043.41L618.63 1073.37L626.12 1017.19L644.84 747.55L656.08 732.57L663.57 829.94L674.80 908.59L682.29 949.78L693.53 946.04L701.02 949.78L708.51 979.75L719.74 1002.22L727.23 994.73L738.47 968.51L745.96 983.49L757.19 1039.66L764.68 1077.12L775.92 1017.19L783.41 867.39L794.64 751.30L802.13 732.57L809.62 799.99L813.37 856.16L820.86 908.59L828.35 949.78L839.58 946.04L847.07 953.53L854.56 976.00L865.80 1005.96L877.03 990.98L884.52 968.51L895.76 983.49L903.25 1043.41L914.48 1077.12L921.97 1024.68L929.46 871.14L940.70 751.30L948.19 736.32L955.68 781.26L959.42 811.22L966.91 908.59L978.15 949.78L985.64 946.04L996.87 949.78L1004.36 976.00L1015.60 998.47L1023.09 987.24L1030.58 961.02L1041.81 979.75L1049.30 1039.66L1060.54 1077.12L1068.03 1028.43L1086.75 755.04L1097.99 736.32L1105.48 822.45L1116.71 908.59L1124.20 949.78L1131.69 946.04L1142.93 949.78L1150.42 979.75L1161.65 1002.22L1169.14 990.98L1180.38 964.76L1187.87 983.49L1206.59 1077.12L1217.83 1020.94L1232.81 755.04L1244.04 740.06L1251.53 814.97L1255.28 852.41L1262.77 908.59L1270.26 949.78L1281.49 946.04L1288.98 949.78L1300.22 976.00L1307.71 1002.22L1318.94 987.24L1326.43 964.76L1337.67 979.75L1345.15 1039.66L1352.64 1073.37L1363.88 1020.94L1371.37 871.14L1382.61 755.04L1390.10 736.32L1393.84 773.77L1401.33 811.22L1408.82 908.59L1420.06 949.78L1427.55 946.04L1438.78 949.78L1446.27 979.75L1453.76 1002.22L1465.00 990.98L1472.49 968.51L1483.72 983.49L1491.21 1043.41L1502.45 1077.12L1509.94 1017.19L1528.66 758.79L1539.89 740.06L1543.64 818.71L1554.88 912.34L1566.11 953.53L1573.60 949.78L1584.84 953.53L1592.33 979.75L1603.56 1002.22L1611.05 990.98L1622.29 968.51L1629.78 983.49L1637.27 1028.43L1648.50 1073.37L1667.23 901.10" stroke="#ff0000" stroke-width="2" fill="none" shape-rendering="crispEdges"/><path clip-path="url(#cc)" d="M191.69 1747.47L195.44 1747.47L199.19 1747.47L202.93 1747.47L206.67 1747.47L210.42 1747.47L214.16 1747.47L217.91 1747.47L221.66 1747.47L225.40 1747.47L229.14 1747.47L232.89 1747.47L236.63 1747.47L240.38 1747.47L244.12 1747.47L247.87 1747.47L251.62 1747.47L255.36 1747.47L259.11 1747.47L262.85 1747.47L266.59 1747.47L270.34 1747.47L274.08 1747.47L277.83 1747.47L281.57 1747.47L285.32 1747.47L289.06 1747.47L292.81 1747.47L296.56 1747.47L300.30 1747.47L304.05 1747.47L307.79 1747.47L311.54 1747.47L315.28 1747.47L319.02 1747.47L322.77 1747.47L326.51 1747.47L330.26 1747.47L334.00 1743.72L334.00 1747.47L334.00 1739.98L334.00 1743.72L337.75 1747.47L337.75 1743.72L337.75 1739.98L337.75 1743.72L341.50 1743.72L341.50 1739.98L341.50 1743.72L341.50 1747.47L341.50 1743.72L345.24 1739.98L345.24 1747.47L345.24 1743.72L345.24 1739.98L345.24 1743.72L348.99 1747.47L348.99 1739.98L348.99 1743.72L348.99 1747.47L348.99 1743.72L352.73 1743.72L352.73 1739.98L352.73 1747.47L352.73 1743.72L356.48 1743.72L356.48 1739.98L356.48 1743.72L360.22 1743.72L360.22 1739.98L360.22 1736.23L360.22 1743.72L363.96 1743.72L363.96 1736.23L363.96 1739.98L363.96 1743.72L363.96 1739.98L367.71 1736.23L367.71 1739.98L367.71 1743.72L367.71 1732.49L371.45 1732.49L371.45 1739.98L371.45 1721.26L371.45 1695.04L371.45 1612.65L371.45 1530.26L375.20 1485.32L375.20 1455.36L375.20 1421.65L375.20 1736.23L375.20 1706.28L378.94 1721.26L378.94 1732.49L378.94 1736.23L378.94 1728.74L378.94 1732.49L378.94 1728.74L382.69 1736.23L382.69 1732.49L382.69 1739.98L382.69 1743.72L382.69 1736.23L386.44 1736.23L386.44 1739.98L386.44 1743.72L386.44 1736.23L390.18 1739.98L390.18 1743.72L390.18 1739.98L393.93 1743.72L393.93 1739.98L393.93 1743.72L397.67 1743.72L397.67 1747.47L397.67 1739.98L401.42 1743.72L405.16 1739.98L405.16 1743.72L405.16 1747.47L405.16 1743.72L408.90 1747.47L408.90 1739.98L408.90 1743.72L408.90 1739.98L408.90 1743.72L408.90 1747.47L412.65 1747.47L412.65 1743.72L412.65 1739.98L412.65 1747.47L416.39 1747.47L420.14 1747.47L423.88 1747.47L427.63 1747.47L431.38 1747.47L435.12 1747.47L438.87 1747.47L442.61 1747.47L446.36 1747.47L450.10 1747.47L453.85 1747.47L457.59 1747.47L461.33 1747.47L465.08 1747.47L468.82 1747.47L472.57 1747.47L476.31 1747.47L480.06 1747.47L483.81 1747.47L487.55 1747.47L491.30 1747.47L495.04 1747.47L498.79 1747.47L502.53 1747.47L506.27 1747.47L510.02 1747.47L513.77 1747.47L517.51 1747.47L521.26 1747.47L521.26 1743.72L525.00 1739.98L525.00 1743.72L525.00 1739.98L525.00 1743.72L525.00 1747.47L528.75 1743.72L528.75 1739.98L528.75 1743.72L532.49 1743.72L532.49 1747.47L532.49 1743.72L532.49 1747.47L532.49 1743.72L536.24 1739.98L536.24 1743.72L536.24 1747.47L536.24 1743.72L539.98 1739.98L539.98 1743.72L539.98 1747.47L539.98 1743.72L539.98 1739.98L543.73 1739.98L543.73 1736.23L543.73 1743.72L547.47 1743.72L547.47 1739.98L547.47 1743.72L547.47 1736.23L547.47 1739.98L551.22 1739.98L551.22 1743.72L551.22 1736.23L551.22 1732.49L551.22 1739.98L551.22 1736.23L554.96 1739.98L554.96 1743.72L554.96 1736.23L554.96 1721.26L554.96 1665.08L554.96 1650.10L558.71 1631.38L558.71 1627.63L558.71 1601.41L558.71 1511.54L558.71 1736.23L558.71 1717.51L562.45 1728.74L562.45 1725.00L562.45 1721.26L562.45 1736.23L566.20 1732.49L566.20 1739.98L566.20 1736.23L566.20 1728.74L566.20 1736.23L566.20 1739.98L569.94 1736.23L569.94 1739.98L569.94 1736.23L569.94 1739.98L573.69 1739.98L573.69 1743.72L573.69 1739.98L573.69 1743.72L577.43 1739.98L577.43 1743.72L577.43 1739.98L581.18 1739.98L581.18 1743.72L581.18 1747.47L581.18 1743.72L584.92 1743.72L584.92 1739.98L584.92 1743.72L588.67 1743.72L588.67 1747.47L588.67 1743.72L588.67 1739.98L588.67 1747.47L592.41 1747.47L596.16 1747.47L599.90 1747.47L603.65 1747.47L607.39 1747.47L611.14 1747.47L614.88 1747.47L618.63 1747.47L622.37 1747.47L626.12 1747.47L629.86 1747.47L633.61 1747.47L637.35 1747.47L641.10 1747.47L644.84 1747.47L648.59 1747.47L652.33 1747.47L656.08 1747.47L659.82 1747.47L663.57 1747.47L667.31 1747.47L671.06 1747.47L674.80 1747.47L678.55 1747.47L682.29 1747.47L686.04 1747.47L689.78 1747.47L693.53 1747.47L697.27 1747.47L701.02 1747.47L704.76 1747.47L708.51 1747.47L712.25 1747.47L716.00 1747.47L716.00 1739.98L719.74 1743.72L719.74 1739.98L719.74 1743.72L719.74 1739.98L723.49 1739.98L723.49 1743.72L723.49 1739.98L723.49 1743.72L723.49 1739.98L727.23 1739.98L727.23 1743.72L727.23 1739.98L727.23 1743.72L727.23 1739.98L730.98 1739.98L730.98 1743.72L730.98 1739.98L730.98 1736.23L734.72 1736.23L734.72 1743.72L734.72 1728.74L734.72 1725.00L734.72 1739.98L738.47 1732.49L738.47 1743.72L738.47 1739.98L738.47 1732.49L738.47 1717.51L742.21 1706.28L742.21 1687.55L742.21 1661.34L742.21 1575.20L742.21 1736.23L742.21 1725.00L745.96 1732.49L745.96 1736.23L745.96 1728.74L745.96 1736.23L745.96 1739.98L749.70 1739.98L749.70 1736.23L749.70 1743.72L753.45 1736.23L753.45 1739.98L753.45 1743.72L753.45 1739.98L757.19 1739.98L757.19 1743.72L757.19 1739.98L757.19 1747.47L760.94 1747.47L764.68 1747.47L768.43 1747.47L772.17 1747.47L775.92 1747.47L779.66 1747.47L783.41 1747.47L787.15 1747.47L790.90 1747.47L794.64 1747.47L798.39 1747.47L802.13 1747.47L805.88 1747.47L809.62 1747.47L813.37 1747.47L817.11 1747.47L820.86 1747.47L824.60 1747.47L828.35 1747.47L832.09 1747.47L835.84 1747.47L839.58 1747.47L843.33 1747.47L847.07 1747.47L850.82 1747.47L854.56 1747.47L858.31 1747.47L862.05 1747.47L865.80 1747.47L869.54 1747.47L873.29 1747.47L877.03 1747.47L880.78 1747.47L884.52 1747.47L888.27 1747.47L892.01 1747.47L895.76 1747.47L899.50 1747.47L903.25 1747.47L906.99 1747.47L910.74 1747.47L914.48 1747.47L918.23 1747.47L921.97 1747.47L925.72 1747.47L929.46 1747.47L933.21 1747.47L936.95 1747.47L940.70 1747.47L944.44 1747.47L948.19 1747.47L951.93 1747.47L955.68 1747.47L959.42 1747.47L963.17 1747.47L966.91 1747.47L970.66 1747.47L974.40 1747.47L978.15 1747.47L981.89 1747.47L985.64 1747.47L989.38 1747.47L993.13 1747.47L996.87 1747.47L1000.62 1747.47L1004.36 1747.47L1008.11 1747.47L1011.85 1747.47L1015.60 1747.47L1019.34 1747.47L1023.09 1747.47L1026.83 1747.47L1030.58 1747.47L1034.32 1747.47L1038.07 1747.47L1041.81 1747.47L1045.56 1747.47L1049.30 1747.47L1053.05 1747.47L1056.79 1747.47L1060.54 1747.47L1064.28 1747.47L1068.03 1747.47L1071.77 1747.47L1075.52 1747.47L1079.26 1747.47L1083.01 1747.47L1086.75 1747.47L1090.50 1747.47L1094.24 1747.47L1097.99 1747.47L1101.73 1747.47L1105.48 1747.47L1109.22 1747.47L1112.97 1747.47L1116.71 1747.47L1120.46 1747.47L1124.20 1747.47L1127.95 1747.47L1131.69 1747.47L1135.44 1747.47L1139.18 1747.47L1142.93 1747.47L1146.67 1747.47L1150.42 1747.47L1154.16 1747.47L1157.90 1747.47L1161.65 1747.47L1165.39 1747.47L1169.14 1747.47L1172.88 1747.47L1176.63 1747.47L1180.38 1747.47L1184.12 1747.47L1187.87 1747.47L1191.61 1747.47L1195.36 1747.47L1199.10 1747.47L1202.85 1747.47L1206.59 1747.47L1210.34 1747.47L1214.08 1747.47L1217.83 1747.47L1221.57 1747.47L1225.32 1747.47L1229.06 1747.47L1232.81 1747.47L1236.55 1747.47L1240.30 1747.47L1244.04 1747.47L1247.79 1747.47L1251.53 1747.47L1255.28 1747.47L1259.02 1747.47L1262.77 1747.47L1266.51 1747.47L1270.26 1747.47L1274.00 1747.47L1277.75 1747.47L1281.49 1747.47L1285.24 1747.47L1288.98 1747.47L1292.73 1747.47L1296.47 1747.47L1300.22 1747.47L1303.96 1747.47L1307.71 1747.47L1311.45 1747.47L1315.20 1747.47L1318.94 1747.47L1322.69 1747.47L1326.43 1747.47L1330.18 1747.47L1333.92 1747.47L1337.67 1747.47L1341.41 1747.47L1345.15 1747.47L1348.90 1747.47L1352.64 1747.47L1356.39 1747.47L1360.13 1747.47L1363.88 1747.47L1367.62 1747.47L1371.37 1747.47L1375.12 1747.47L1378.86 1747.47L1382.61 1747.47L1386.35 1747.47L1390.10 1747.47L1393.84 1747.47L1397.59 1747.47L1401.33 1747.47L1405.08 1747.47L1408.82 1747.47L1412.57 1747.47L1416.31 1747.47L1420.06 1747.47L1423.80 1747.47L1427.55 1747.47L1431.29 1747.47L1435.04 1747.47L1438.78 1747.47L1442.53 1747.47L1446.27 1747.47L1450.02 1747.47L1453.76 1747.47L1457.51 1747.47L1461.25 1747.47L1465.00 1747.47L1468.74 1747.47L1472.49 1747.47L1476.23 1747.47L1479.98 1747.47L1483.72 1747.47L1487.47 1747.47L1491.21 1747.47L1494.96 1747.47L1498.70 1747.47L1502.45 1747.47L1506.19 1747.47L1509.94 1747.47L1513.68 1747.47L1517.43 1747.47L1521.17 1747.47L1524.92 1747.47L1528.66 1747.47L1532.41 1747.47L1536.15 1747.47L1539.89 1747.47L1543.64 1747.47L1547.38 1747.47L1551.13 1747.47L1554.88 1747.47L1558.62 1747.47L1562.37 1747.47L1566.11 1747.47L1569.86 1747.47L1573.60 1747.47L1577.35 1747.47L1581.09 1747.47L1584.84 1747.47L1588.58 1747.47L1592.33 1747.47L1596.07 1747.47L1599.82 1747.47L1603.56 1747.47L1607.31 1747.47L1611.05 1747.47L1614.80 1747.47L1618.54 1747.47L1622.29 1747.47L1626.03 1747.47L1629.78 1747.47L1633.52 1747.47L1637.27 1747.47L1641.01 1747.47L1644.76 1747.47L1648.50 1747.47L1652.25 1747.47L1655.99 1747.47L1659.74 1747.47L1663.48 1747.47" stroke="#000" stroke-width="1.6" fill="none" shape-rendering="crispEdges"/><text transform="translate(159.20 158.45) scale(0.9514 1)" font-size="67.73" text-anchor="middle" font-weight="bold" fill="#000">2</text><text transform="translate(159.50 312.65) scale(0.9574 1)" font-size="67.73" text-anchor="middle" font-weight="bold" fill="#000">0</text><text transform="translate(148.70 465.00) scale(0.9576 1)" font-size="67.28" text-anchor="middle" font-weight="bold" fill="#000">-2</text><text transform="translate(159.20 809.15) scale(0.9832 1)" font-size="65.54" text-anchor="middle" font-weight="bold" fill="#000">2</text><text transform="translate(159.50 964.00) scale(0.9383 1)" font-size="69.1" text-anchor="middle" font-weight="bold" fill="#000">0</text><text transform="translate(148.70 1114.90) scale(0.9706 1)" font-size="66.38" text-anchor="middle" font-weight="bold" fill="#000">-2</text><text transform="translate(134.20 1480.70) scale(0.9436 1)" font-size="68.19" text-anchor="middle" font-weight="bold" fill="#000">0.4</text><text transform="translate(134.70 1626.70) scale(0.9554 1)" font-size="68.19" text-anchor="middle" font-weight="bold" fill="#000">0.2</text><text transform="translate(159.00 1774.10) scale(0.9695 1)" font-size="66.38" text-anchor="middle" font-weight="bold" fill="#000">0</text><text transform="translate(191.30 551.45) scale(0.9109 1)" font-size="69.57" text-anchor="middle" font-weight="bold" fill="#000">0.3</text><text transform="translate(436.90 551.45) scale(0.9479 1)" font-size="69.57" text-anchor="middle" font-weight="bold" fill="#000">0.35</text><text transform="translate(680.10 551.45) scale(0.8959 1)" font-size="69.57" text-anchor="middle" font-weight="bold" fill="#000">0.4</text><text transform="translate(925.90 551.45) scale(0.9343 1)" font-size="69.57" text-anchor="middle" font-weight="bold" fill="#000">0.45</text><text transform="translate(1172.20 551.85) scale(0.9354 1)" font-size="69.57" text-anchor="middle" font-weight="bold" fill="#000">0.5</text><text transform="translate(1417.30 551.90) scale(0.9531 1)" font-size="68.19" text-anchor="middle" font-weight="bold" fill="#000">0.55</text><text transform="translate(1662.00 551.45) scale(0.9317 1)" font-size="69.57" text-anchor="middle" font-weight="bold" fill="#000">0.6</text><text transform="translate(193.10 1200.50) scale(0.9724 1)" font-size="68.19" text-anchor="middle" font-weight="bold" fill="#000">0.35</text><text transform="translate(558.30 1201.00) scale(0.9831 1)" font-size="67.28" text-anchor="middle" font-weight="bold" fill="#000">0.355</text><text transform="translate(926.10 1200.75) scale(0.9468 1)" font-size="68.64" text-anchor="middle" font-weight="bold" fill="#000">0.36</text><text transform="translate(1291.20 1201.00) scale(0.9803 1)" font-size="67.28" text-anchor="middle" font-weight="bold" fill="#000">0.365</text><text transform="translate(1663.90 1200.50) scale(0.9706 1)" font-size="68.19" text-anchor="middle" font-weight="bold" fill="#000">0.37</text><text transform="translate(193.30 1818.50) scale(0.9070 1)" font-size="70.03" text-anchor="middle" font-weight="bold" fill="#000">0</text><text transform="translate(557.70 1818.35) scale(0.9662 1)" font-size="68.64" text-anchor="middle" font-weight="bold" fill="#000">1000</text><text transform="translate(924.40 1818.35) scale(0.9797 1)" font-size="68.64" text-anchor="middle" font-weight="bold" fill="#000">2000</text><text transform="translate(1291.50 1818.35) scale(0.9790 1)" font-size="68.64" text-anchor="middle" font-weight="bold" fill="#000">3000</text><text transform="translate(1662.70 1818.35) scale(0.9496 1)" font-size="68.64" text-anchor="middle" font-weight="bold" fill="#000">4000</text><text transform="translate(920.10 627.20) scale(1.0200 1)" font-size="63.48" text-anchor="middle" font-weight="bold" fill="#000">Time(s)</text><text transform="translate(920.10 1275.55) scale(1.0119 1)" font-size="63.99" text-anchor="middle" font-weight="bold" fill="#000">Time(s)</text><text transform="translate(920.00 1892.50) scale(0.9845 1)" font-size="64.01" text-anchor="middle" font-weight="bold" fill="#000">Frequency(Hz)</text><text transform="translate(1601.00 92.30) scale(0.9544 1)" font-size="65.37" text-anchor="middle" font-weight="bold" fill="#000">(a)</text><text transform="translate(1601.00 741.50) scale(1.0036 1)" font-size="63.99" text-anchor="middle" font-weight="bold" fill="#000">(b)</text><text transform="translate(1601.00 1381.10) scale(0.9527 1)" font-size="65.2" text-anchor="middle" font-weight="bold" fill="#000">(c)</text><text transform="translate(471.40 1397.35) scale(1.0194 1)" font-size="62.8" text-anchor="middle" font-weight="normal" fill="#ff0000">SNR = 42.2dB</text><text transform="translate(82.30 253.05) rotate(-90) scale(0.9810 1)" font-size="66" text-anchor="middle" font-weight="bold" fill="#000">Phase(rad)</text><text transform="translate(82.30 906.00) rotate(-90) scale(0.9810 1)" font-size="66" text-anchor="middle" font-weight="bold" fill="#000">Phase(rad)</text><text transform="translate(56.00 1761.00) rotate(-90) scale(0.9640 1)" font-size="66" text-anchor="start" font-weight="bold" fill="#000">Amplitude(A.U</text><rect x="0" y="1300" width="100" height="73" fill="#fff"/><text transform="translate(56.00 1348.00) rotate(-90) scale(0.9200 1)" font-size="66" text-anchor="start" font-weight="bold" fill="#000">(rad)</text><ellipse cx="498.9" cy="251.4" rx="55.4" ry="199.5" fill="none" stroke="#ff0000" stroke-width="9.5"/><path d="M533.5 426 L606 612" stroke="#ff0000" stroke-width="8.6" fill="none"/><path d="M623 658 L586 616 Q596 612 610 614 L627 600 Z" fill="#ff0000" stroke="#ff0000" stroke-width="2" stroke-linejoin="round"/><path d="M213 1421.6 H372" stroke="#ff0000" stroke-width="6" stroke-linecap="round"/><path d="M231 1739.6 H301" stroke="#ff0000" stroke-width="6" stroke-linecap="round"/><path d="M270 1470 V1685" stroke="#ff0000" stroke-width="8"/><path d="M270 1423.4 L250 1476 L289 1476 Z" fill="#ff0000"/><path d="M270.5 1737 L251.5 1680 L290 1680 Z" fill="#ff0000"/></svg></body></html>
